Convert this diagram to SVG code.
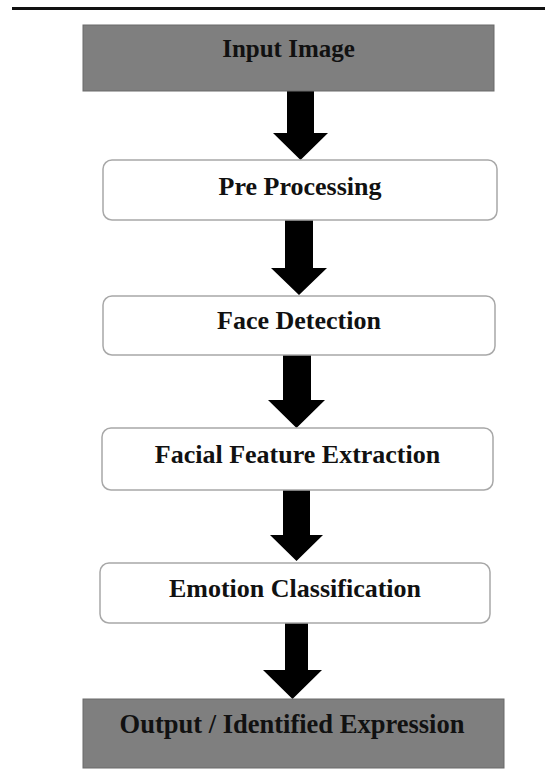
<svg xmlns="http://www.w3.org/2000/svg" width="545" height="778" viewBox="0 0 545 778">
<style>
.gbox{fill:#7f7f7f;stroke:#6a6a6a;stroke-width:1}
.wbox{fill:#ffffff;stroke:#a8a8a8;stroke-width:1.5}
.lbl{font-family:"Liberation Serif","Times New Roman",serif;font-weight:bold;font-size:26px;fill:#111;text-anchor:middle}
.arr{fill:#000}
</style>
<rect x="0" y="0" width="545" height="778" fill="#ffffff"/>
<rect x="12" y="7" width="533" height="3" fill="#111"/>
<g id="connectors">
<polygon class="arr" points="287,91 314,91 314,133 328,133 300.5,160 273,133 287,133"/>
<polygon class="arr" points="285,220 313,220 313,268 327,268 299,295 271,268 285,268"/>
<polygon class="arr" points="283,355 311,355 311,400 325,400 296.5,428 268,400 283,400"/>
<polygon class="arr" points="283,490 310,490 310,535 323,535 296.5,561 270,535 283,535"/>
<polygon class="arr" points="285,623 308,623 308,670 322,670 292.5,699 263,670 285,670"/>
</g>
<g id="input-image">
<rect class="gbox" x="83" y="25" width="411" height="66"/>
<text class="lbl" x="288.5" y="57" style="font-size:25px">Input Image</text>
</g>
<g id="pre-processing">
<rect class="wbox" x="103" y="160" width="394" height="60" rx="9"/>
<text class="lbl" x="300" y="195">Pre Processing</text>
</g>
<g id="face-detection">
<rect class="wbox" x="103" y="296" width="392" height="59" rx="9"/>
<text class="lbl" x="299" y="329">Face Detection</text>
</g>
<g id="feature-extraction">
<rect class="wbox" x="102" y="428" width="391" height="62" rx="9"/>
<text class="lbl" x="297.5" y="463">Facial Feature Extraction</text>
</g>
<g id="emotion-classification">
<rect class="wbox" x="100" y="563" width="390" height="60" rx="9"/>
<text class="lbl" x="295" y="597">Emotion Classification</text>
</g>
<g id="output">
<rect class="gbox" x="83" y="699" width="421" height="69"/>
<text class="lbl" x="292" y="733" style="font-size:26.5px">Output / Identified Expression</text>
</g>
</svg>
